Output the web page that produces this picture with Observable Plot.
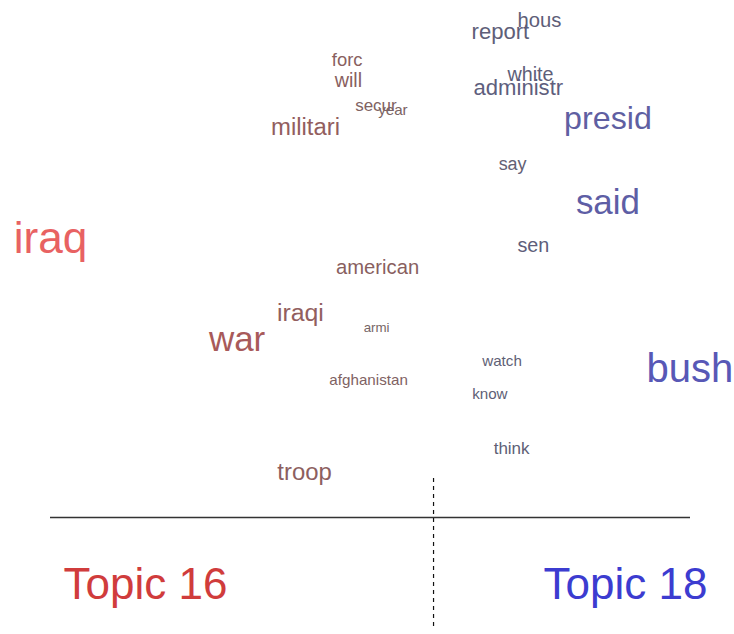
<!DOCTYPE html>
<html>
<head>
<meta charset="utf-8">
<script src="https://cdn.jsdelivr.net/npm/d3@7"></script>
<script src="https://cdn.jsdelivr.net/npm/@observablehq/plot@0.6"></script>
<style>
  html, body { margin: 0; padding: 0; background: #fff; }
  #chart svg { display: block; }
</style>
</head>
<body>
<div id="chart"></div>
<script>
// Words of the perspectives plot: Topic 16 (left) vs Topic 18 (right)
const words = ["iraq","hous","report","forc","will","white","administr","secur","year","militari","presid","say","said","sen","american","iraqi","armi","war","bush","watch","afghanistan","know","think","troop"];
// position along the topic contrast axis (-1 = Topic 16, 1 = Topic 18)
const contrast = [-1.0, 0.528, 0.406, -0.073, -0.069, 0.5, 0.462, 0.017, 0.070, -0.203, 0.742, 0.444, 0.742, 0.509, 0.022, -0.219, 0.019, -0.417, 0.998, 0.411, -0.006, 0.373, 0.441, -0.206];
// vertical (jitter) position
const jitter = [0.123, 0.998, 0.956, 0.839, 0.756, 0.784, 0.730, 0.656, 0.638, 0.569, 0.606, 0.421, 0.268, 0.092, 0.004, -0.179, -0.238, -0.283, -0.404, -0.372, -0.449, -0.505, -0.722, -0.819];
// word weight (relative frequency)
const weight = [0.96, 0.44, 0.48, 0.40, 0.43, 0.43, 0.48, 0.37, 0.33, 0.52, 0.70, 0.39, 0.76, 0.43, 0.44, 0.54, 0.29, 0.76, 0.87, 0.33, 0.33, 0.33, 0.37, 0.52];
// topic lean used for colouring (-1 Topic 16, 1 Topic 18)
const lean = [-1, 0.2, 0.2, -0.25, -0.25, 0.2, 0.25, -0.15, -0.1, -0.35, 0.6, 0.15, 0.65, 0.22, -0.25, -0.35, -0.05, -0.6, 0.9, 0.18, -0.15, 0.18, 0.18, -0.3];

const topicLabels = ["Topic 16", "Topic 18"];
const topicX = [-0.703, 0.797];
const topicY = [-1.27, -1.27];
const divider = 0.197;

const data = words.map((w, i) => ({word: w, x: contrast[i], y: jitter[i], weight: weight[i], lean: lean[i]}));
const topics = topicLabels.map((t, i) => ({label: t, x: topicX[i], y: topicY[i]}));

const fs = d3.scaleLinear().domain([0, 1]).range([0, 46]);

const chart = Plot.plot({
  width: 734,
  height: 634,
  margin: 0,
  style: {fontFamily: "'Liberation Sans', Arial, Helvetica, sans-serif", background: "#fff"},
  x: {domain: [-1, 1], range: [50, 690], axis: null},
  y: {domain: [-1, 1], range: [517, 20], axis: null},
  color: {type: "linear", domain: [-1, -0.6, -0.2, 0, 0.2, 0.6, 1], range: ["#e86262", "#a85a5a", "#846060", "#726868", "#5e5e78", "#5f5fa2", "#5656bc"]},
  marks: [
    Plot.ruleY([-1], {x1: -1, x2: 1, stroke: "#333", strokeWidth: 1.6}),
    Plot.ruleX([divider], {y1: -0.843, y2: -1.447, stroke: "#111", strokeWidth: 1.2, strokeDasharray: "4,4"}),
    Plot.text(data, {x: "x", y: "y", text: "word", fill: "lean", fontSize: d => fs(d.weight), textAnchor: "middle"}),
    Plot.text(topics, {x: "x", y: "y", text: "label", fill: (d, i) => i === 0 ? "#d03c3c" : "#3c3cd0", fontSize: 44, textAnchor: "middle"})
  ]
});
document.getElementById("chart").appendChild(chart);
</script>
</body>
</html>
